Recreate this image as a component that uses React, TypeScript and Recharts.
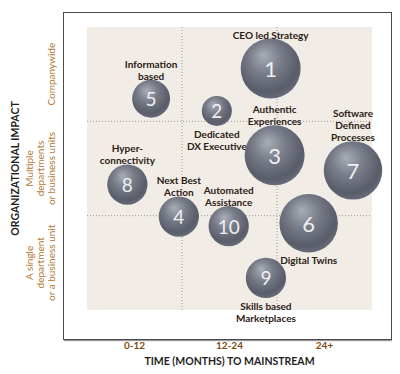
import { ScatterChart, Scatter, XAxis, YAxis, ZAxis, ReferenceArea, ReferenceLine } from 'recharts';

// months to mainstream (x), organizational impact (y, 0 = single unit .. 3 = companywide)
const ids = ['1', '2', '3', '4', '5', '6', '7', '8', '9', '10'];
const names = [
  ['CEO led Strategy'],
  ['Dedicated', 'DX Executive'],
  ['Authentic', 'Experiences'],
  ['Next Best', 'Action'],
  ['Information', 'based'],
  ['Digital Twins'],
  ['Software', 'Defined', 'Processes'],
  ['Hyper-', 'connectivity'],
  ['Skills based', 'Marketplaces'],
  ['Automated', 'Assistance'],
];
const months = [23.2, 16.4, 23.7, 11.6, 8.1, 28.0, 33.6, 5.1, 22.6, 17.9];
const impact = [2.56, 2.11, 1.64, 0.99, 2.24, 0.92, 1.48, 1.33, 0.34, 0.89];
const sizes = [4, 1, 4, 1.8, 1.6, 3.8, 3.8, 1.8, 1.8, 1.8];
const labelSide = ['top', 'bottom', 'top', 'top', 'top', 'bottom', 'top', 'top', 'bottom', 'top'];

const xTicks = [6, 18, 30];
const xTickLabels = ['0-12', '12-24', '24+'];
const yTicks = [0.5, 1.5, 2.5];
const yTickLabels = [
  ['A single', 'department', 'or a business unit'],
  ['Multiple', 'departments', 'or business units'],
  ['Companywide'],
];

const data = ids.map((id, i) => ({
  id,
  label: names[i],
  side: labelSide[i],
  x: months[i],
  y: impact[i],
  z: sizes[i],
}));

const FONT = 'Lato, "Open Sans", sans-serif';

function Bubble(props: any) {
  const { cx, cy, width, payload } = props;
  const r = width / 2;
  const lh = 12;
  const lines: string[] = payload.label;
  const startY = payload.side === 'top' ? cy - r - 4 - (lines.length - 1) * lh : cy + r + 8;
  const gid = `sphere-${payload.id}`;
  return (
    <g>
      <defs>
        <radialGradient id={gid} cx="45%" cy="38%" r="62%" fx="38%" fy="28%">
          <stop offset="0%" stopColor="#a9adb6" />
          <stop offset="45%" stopColor="#767b87" />
          <stop offset="85%" stopColor="#585d69" />
          <stop offset="100%" stopColor="#666b77" />
        </radialGradient>
      </defs>
      <circle cx={cx} cy={cy} r={r} fill={`url(#${gid})`} />
      <text
        x={cx}
        y={cy}
        textAnchor="middle"
        dominantBaseline="central"
        fill="#eef0f3"
        fontFamily={FONT}
        fontSize={r > 25 ? 22 : 19}
      >
        {payload.id}
      </text>
      <text textAnchor="middle" fill="#2b2016" fontFamily={FONT} fontSize={10} fontWeight={700}>
        {lines.map((l, i) => (
          <tspan key={i} x={cx} y={startY + i * lh} dominantBaseline="central">
            {l}
          </tspan>
        ))}
      </text>
    </g>
  );
}

function ImpactTick(props: any) {
  const { x, y, payload } = props;
  const idx = yTicks.indexOf(payload.value);
  const lines = yTickLabels[idx] || [];
  const lh = 11;
  const cx = x - 36;
  return (
    <text
      transform={`rotate(-90, ${cx}, ${y})`}
      x={cx}
      y={y}
      textAnchor="middle"
      fill="#b27a33"
      fontFamily={FONT}
      fontSize={10}
    >
      {lines.map((l, i) => (
        <tspan key={i} x={cx} y={y + (i - (lines.length - 1)) * lh} dominantBaseline="central">
          {l}
        </tspan>
      ))}
    </text>
  );
}

export default function App() {
  return (
    <div style={{ position: 'relative', width: 392, height: 366 }}>
      <div
        style={{
          position: 'absolute',
          left: 55,
          top: 4,
          width: 327,
          height: 326,
          border: '1px solid #4a4a4a',
          boxShadow: '1px 1px 1px #999',
        }}
      />
      <ScatterChart
        width={392}
        height={366}
        margin={{ top: 19, right: 28, left: 0, bottom: 0 }}
        style={{ position: 'absolute', left: 0, top: 0 }}
      >
        <XAxis
          type="number"
          dataKey="x"
          domain={[0, 36]}
          ticks={xTicks}
          tickFormatter={(v: number) => xTickLabels[xTicks.indexOf(v)]}
          height={64}
          axisLine={false}
          tickLine={false}
          tickSize={0}
          tickMargin={32}
          tick={{ fill: '#7d4a12', fontSize: 10, fontWeight: 700, fontFamily: FONT }}
          label={{
            value: 'TIME (MONTHS) TO MAINSTREAM',
            position: 'insideBottom',
            offset: 9,
            fill: '#1e1e1e',
            fontSize: 10.5,
            fontWeight: 700,
            fontFamily: FONT,
          }}
        />
        <YAxis
          type="number"
          dataKey="y"
          domain={[0, 3]}
          ticks={yTicks}
          width={79}
          axisLine={false}
          tickLine={false}
          tickSize={0}
          tickMargin={0}
          tick={<ImpactTick />}
          label={{
            value: 'ORGANIZATIONAL IMPACT',
            angle: -90,
            position: 'insideLeft',
            offset: 7,
            fill: '#1e1e1e',
            fontSize: 10.5,
            fontWeight: 700,
            fontFamily: FONT,
            style: { textAnchor: 'middle' },
          }}
        />
        <ZAxis type="number" dataKey="z" domain={[0, 4]} range={[0, 2827]} />
        <ReferenceArea x1={0} x2={36} y1={0} y2={3} fill="#f1ece5" fillOpacity={1} stroke="none" />
        <ReferenceLine x={12} stroke="#9a9a9a" strokeDasharray="1 2" />
        <ReferenceLine x={24} stroke="#9a9a9a" strokeDasharray="1 2" />
        <ReferenceLine y={1} stroke="#9a9a9a" strokeDasharray="1 2" />
        <ReferenceLine y={2} stroke="#9a9a9a" strokeDasharray="1 2" />
        <Scatter data={data} shape={<Bubble />} isAnimationActive={false} />
      </ScatterChart>
    </div>
  );
}
